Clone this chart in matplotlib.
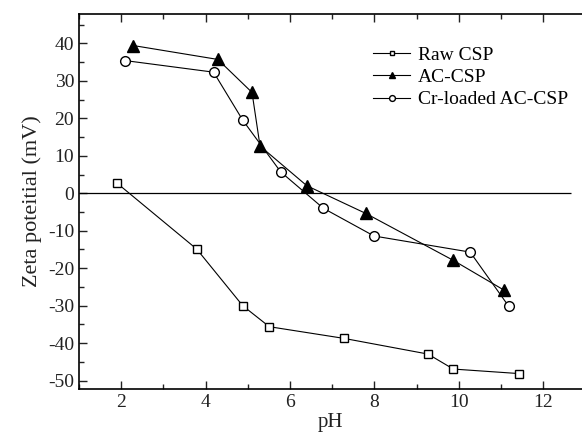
import matplotlib
matplotlib.use("Agg")
import matplotlib.pyplot as plt
from matplotlib.ticker import MultipleLocator

plt.rcParams['font.family'] = ['Liberation Serif', 'DejaVu Serif']
plt.rcParams['axes.unicode_minus'] = False

raw_ph = [1.89, 3.79, 4.88, 5.51, 7.27, 9.27, 9.87, 11.42]
raw_zeta = [2.8, -14.9, -30.0, -35.6, -38.7, -42.9, -46.9, -48.1]

ac_ph = [2.29, 4.29, 5.10, 5.29, 6.40, 7.80, 9.87, 11.08]
ac_zeta = [39.4, 35.7, 26.9, 12.6, 2.0, -5.4, -17.9, -25.9]

cr_ph = [2.09, 4.19, 4.88, 5.78, 6.79, 7.99, 10.27, 11.18]
cr_zeta = [35.4, 32.3, 19.5, 5.7, -4.0, -11.4, -15.7, -30.1]

labels = ["Raw CSP", "AC-CSP", "Cr-loaded AC-CSP"]

fig = plt.figure(figsize=(5.82, 4.38), dpi=100)
ax = fig.add_axes([79/582, (438-389.3)/438, (582-79)/582, (389.3-13.7)/438])

lw = 0.8
ax.hlines(0, 1.0, 12.65, color='black', lw=0.9)
ax.plot(raw_ph, raw_zeta, '-', color='black', lw=lw, marker='s', ms=6,
        mfc='white', mec='black', mew=1.0, label=labels[0])
ax.plot(ac_ph, ac_zeta, '-', color='black', lw=lw, marker='^', ms=8,
        mfc='black', mec='black', label=labels[1])
ax.plot(cr_ph, cr_zeta, '-', color='black', lw=lw, marker='o', ms=7,
        mfc='white', mec='black', mew=1.0, label=labels[2])

ax.set_xlim(1.0, 12.92)
ax.set_ylim(-52.3, 47.9)
ax.xaxis.set_major_locator(MultipleLocator(2))
ax.xaxis.set_minor_locator(MultipleLocator(1))
ax.yaxis.set_major_locator(MultipleLocator(10))
ax.yaxis.set_minor_locator(MultipleLocator(5))
ax.tick_params(which='both', direction='in', top=True, right=False,
               labelsize=14, colors='#222222', width=1.0)
ax.tick_params(which='major', length=6)
ax.tick_params(which='minor', length=3.5)
ax.spines['right'].set_visible(False)
for s in ['left', 'bottom', 'top']:
    ax.spines[s].set_linewidth(1.2)

ax.set_xlabel('pH', fontsize=15, labelpad=1, color='#222222')
ax.set_ylabel('Zeta poteitial (mV)', fontsize=16, labelpad=4, color='#222222')

leg = ax.legend(loc='upper left', bbox_to_anchor=(0.57, 0.935), frameon=False,
                fontsize=14, handlelength=1.9, handletextpad=0.4, numpoints=1,
                labelspacing=0.25, markerscale=0.6, borderaxespad=0)

fig.savefig('out.png', dpi=100)
